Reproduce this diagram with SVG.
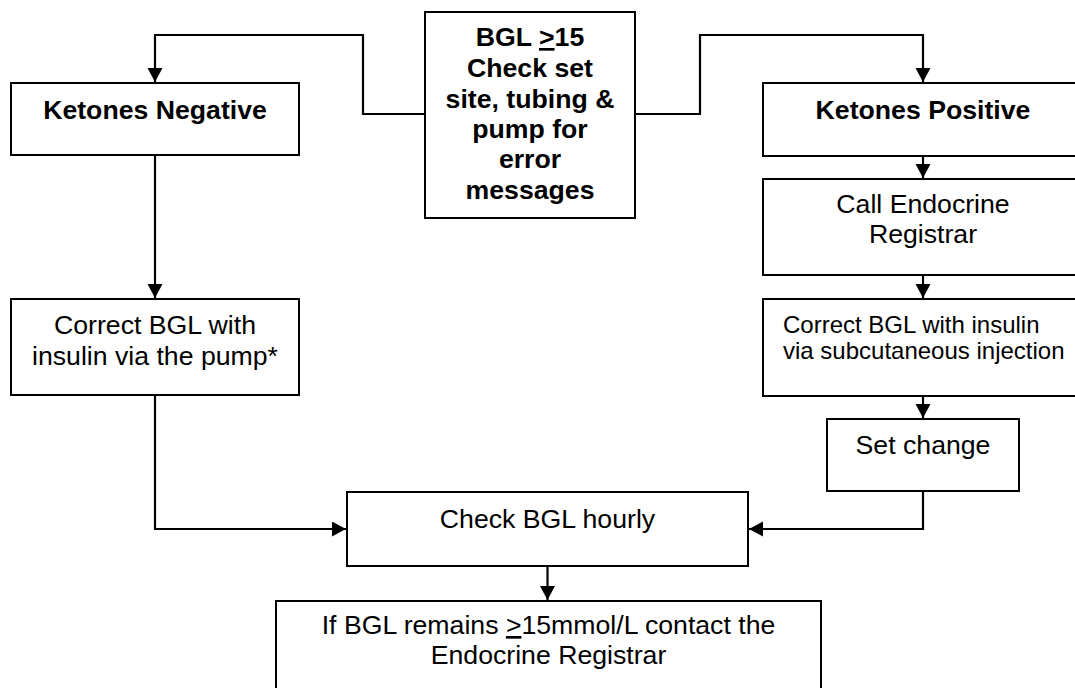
<svg xmlns="http://www.w3.org/2000/svg" width="1075" height="688" viewBox="0 0 1075 688">
<style>
.box{fill:#fff;stroke:#000;stroke-width:2}
.t{font-family:"Liberation Sans",Arial,sans-serif;font-size:26.67px;fill:#000;text-anchor:middle}
.b{font-weight:bold}
.s{font-size:24px;text-anchor:start}
.c{fill:none;stroke:#000;stroke-width:2.2}
.u{text-decoration:underline}
</style>
<defs>
<marker id="ah" markerUnits="userSpaceOnUse" markerWidth="16" markerHeight="16" refX="14" refY="7.5" orient="auto">
<path d="M0,0 L14,7.5 L0,15 Z" fill="#000"/>
</marker>
</defs>
<rect width="1075" height="688" fill="#fff"/>
<g id="connectors">
<path class="c" d="M425,114 H363 V35 H155 V82" marker-end="url(#ah)"/>
<path class="c" d="M635,114 H700 V35 H923 V82" marker-end="url(#ah)"/>
<path class="c" d="M923,156 V178" marker-end="url(#ah)"/>
<path class="c" d="M923,275 V298" marker-end="url(#ah)"/>
<path class="c" d="M923,396 V418" marker-end="url(#ah)"/>
<path class="c" d="M923,491 V529 H749" marker-end="url(#ah)"/>
<path class="c" d="M155,155 V298" marker-end="url(#ah)"/>
<path class="c" d="M155,395 V529 H346" marker-end="url(#ah)"/>
<path class="c" d="M547.5,566 V600" marker-end="url(#ah)"/>
</g>
<g id="start">
<rect class="box" x="425" y="12" width="210" height="206"/>
<text class="t b" x="530" y="46">BGL <tspan class="u">&gt;</tspan>15</text>
<text class="t b" x="530" y="77">Check set</text>
<text class="t b" x="530" y="108">site, tubing &amp;</text>
<text class="t b" x="530" y="138">pump for</text>
<text class="t b" x="530" y="168">error</text>
<text class="t b" x="530" y="199">messages</text>
</g>
<g id="ketones-negative">
<rect class="box" x="11" y="83" width="288" height="72"/>
<text class="t b" x="155" y="119">Ketones Negative</text>
</g>
<g id="ketones-positive">
<rect class="box" x="763" y="83" width="320" height="73"/>
<text class="t b" x="923" y="119">Ketones Positive</text>
</g>
<g id="call-registrar">
<rect class="box" x="763" y="179" width="320" height="96"/>
<text class="t" x="923" y="213">Call Endocrine</text>
<text class="t" x="923" y="243">Registrar</text>
</g>
<g id="correct-subcut">
<rect class="box" x="763" y="299" width="320" height="97"/>
<text class="t s" x="783" y="333">Correct BGL with insulin</text>
<text class="t s" x="783" y="359">via subcutaneous injection</text>
</g>
<g id="set-change">
<rect class="box" x="827" y="419" width="192" height="72"/>
<text class="t" x="923" y="454">Set change</text>
</g>
<g id="correct-pump">
<rect class="box" x="11" y="299" width="288" height="96"/>
<text class="t" x="155" y="334">Correct BGL with</text>
<text class="t" x="155" y="365">insulin via the pump*</text>
</g>
<g id="check-hourly">
<rect class="box" x="347" y="492" width="401" height="74"/>
<text class="t" x="547.5" y="528">Check BGL hourly</text>
</g>
<g id="contact-registrar">
<rect class="box" x="276" y="601" width="545" height="95"/>
<text class="t" x="548.5" y="634">If BGL remains <tspan class="u">&gt;</tspan>15mmol/L contact the</text>
<text class="t" x="548.5" y="664">Endocrine Registrar</text>
</g>
</svg>
